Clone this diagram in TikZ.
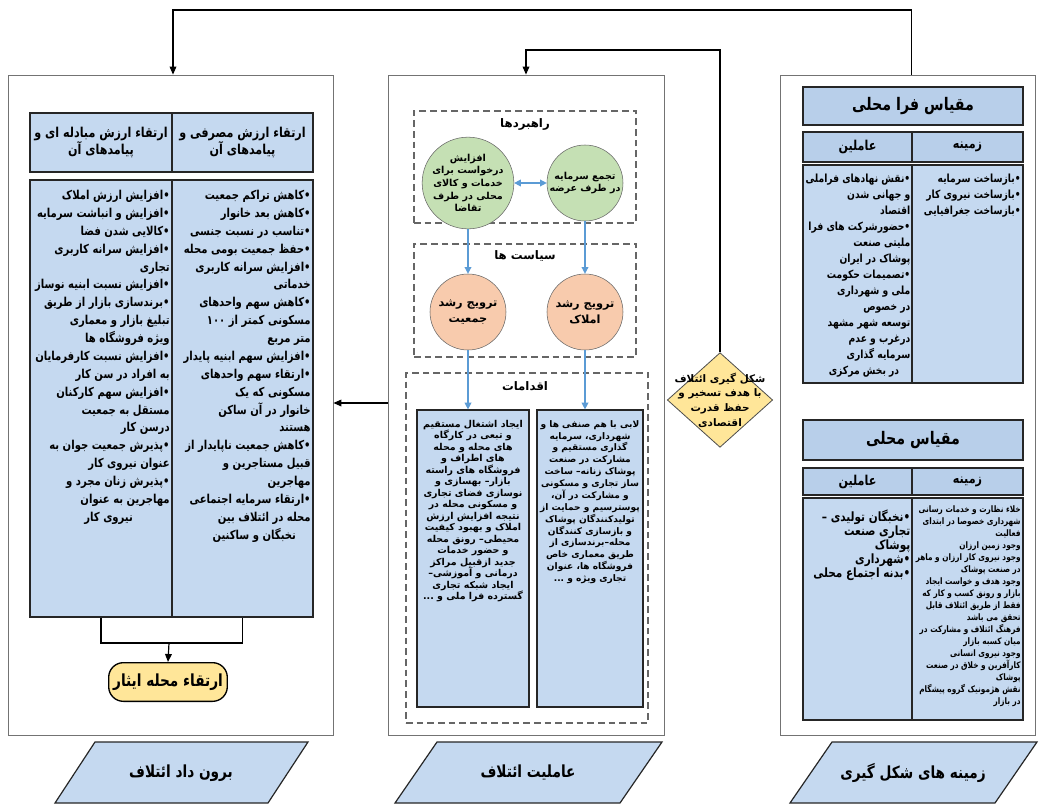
\documentclass[tikz,border=0pt]{standalone}
\usepackage{fontspec}
\usetikzlibrary{positioning,fit,arrows.meta,shapes.geometric}
\newfontfamily\fafont[Script=Arabic]{DejaVu Sans}
\newfontfamily\fanarrow[Script=Arabic,FakeStretch=0.82]{DejaVu Sans}
\TeXXeTstate=1
\newcommand{\fa}[1]{\beginR #1\endR}
\newcommand{\ii}[1]{\hspace*{#1em}}
\definecolor{boxblue}{RGB}{197,217,240}
\definecolor{headblue}{RGB}{184,207,234}
\definecolor{circgreen}{RGB}{197,224,180}
\definecolor{circorange}{RGB}{248,203,173}
\definecolor{goalyellow}{RGB}{255,230,153}
\definecolor{arrowblue}{RGB}{91,155,213}

\begin{document}
\begin{tikzpicture}[x=0.75pt,y=-0.75pt,
  panel/.style={draw=black!55, fill=white, line width=0.6pt, inner sep=0pt},
  bluebox/.style={draw=black!85, fill=boxblue, line width=0.9pt, inner sep=0pt},
  headbox/.style={draw=black!85, fill=headblue, line width=1pt, inner sep=0pt},
  dashbox/.style={draw=black!60, dash pattern=on 5pt off 3pt, line width=0.8pt, inner sep=0pt},
  listtxt/.style={font=\fanarrow\bfseries\fontsize{9.2}{13.4}\selectfont, align=right, inner sep=0pt},
  smalltxt/.style={font=\fanarrow\bfseries\fontsize{6.7}{9}\selectfont, align=right, inner sep=0pt},
  acttxt/.style={font=\fafont\bfseries\fontsize{7.1}{8.6}\selectfont, align=center, inner sep=0pt},
  headtxt/.style={font=\fanarrow\bfseries\fontsize{10.2}{12.8}\selectfont, align=center, inner sep=0pt},
  titletxt/.style={font=\fanarrow\bfseries\fontsize{13}{15}\selectfont, align=center, inner sep=0pt},
  ttl/.style={font=\fafont\bfseries\fontsize{8.8}{11}\selectfont, inner sep=0pt},
  gcirc/.style={circle, draw=black!60, fill=circgreen, minimum size=57pt, inner sep=0pt, align=center,
    font=\fafont\bfseries\fontsize{7.2}{9.5}\selectfont},
  ocirc/.style={gcirc, fill=circorange},
  barrow/.style={-{Triangle[length=5pt,width=5pt]}, draw=arrowblue, line width=0.9pt},
  conn/.style={-{Triangle[length=6pt,width=5pt]}, draw=black, line width=0.9pt},
  para/.style={draw=black!85, fill=boxblue, line width=0.9pt},
  paratxt/.style={font=\fanarrow\bfseries\fontsize{12.5}{14}\selectfont, inner sep=0pt}
]
\useasboundingbox (0,0) rectangle (1040,807);

% panels
\node[panel, fit={(8,75)(333,735)}] (outp) {};
\node[panel, fit={(388,75)(664,735)}] (agency) {};
\node[panel, fit={(780,75)(1035,735)}] (ctx) {};

% top connectors
\coordinate (tl) at (173,10);
\coordinate (tm) at (526,50);
\draw[conn] ([xshift=3pt]ctx.north) |- (tl) -- (tl |- outp.north);

% ---- left panel: output
\node[headbox, fill=boxblue, fit={(30,113)(172,172)}] (hx) {};
\node[headbox, fill=boxblue, fit={(172,113)(313,172)}] (hu) {};
\node[headtxt] at (hx.center) {\fa{ارتقاء ارزش مبادله ای و}\\\fa{پیامدهای آن}};
\node[headtxt] at (hu.center) {\fa{ارتقاء ارزش مصرفی و}\\\fa{پیامدهای آن}};
\node[bluebox, fit={(30,180)(172,617)}] (lx) {};
\node[bluebox, fit={(172,180)(313,617)}] (lu) {};
\node[listtxt, anchor=north east] (lxt) at ([xshift=-2pt,yshift=-8pt]lx.north east) {%
\fa{•افزایش ارزش املاک}\\
\fa{•افزایش و انباشت سرمایه}\\
\fa{•کالایی شدن فضا}\\
\fa{•افزایش سرانه کاربری}\\
\fa{تجاری}\ii{3.5}\\
\fa{•افزایش نسبت ابنیه نوساز}\\
\fa{•برندسازی بازار از طریق}\\
\fa{تبلیغ بازار و معماری}\ii{1}\\
\fa{ویژه فروشگاه ها}\ii{1.8}\\
\fa{•افزایش نسبت کارفرمایان}\\
\fa{به افراد در سن کار}\ii{1.3}\\
\fa{•افزایش سهم کارکنان}\\
\fa{مستقل به جمعیت}\ii{1.8}\\
\fa{درسن کار}\ii{3}\\
\fa{•پذیرش جمعیت جوان به}\\
\fa{عنوان نیروی کار}\ii{1.5}\\
\fa{•پذیرش زنان مجرد و}\\
\fa{مهاجرین به عنوان}\ii{1.2}\\
\fa{نیروی کار}\ii{3}};
\node[listtxt, anchor=north east] (lut) at ([xshift=-2pt,yshift=-8pt]lu.north east) {%
\fa{•کاهش تراکم جمعیت}\\
\fa{•کاهش بعد خانوار}\\
\fa{•تناسب در نسبت جنسی}\\
\fa{•حفظ جمعیت بومی محله}\\
\fa{•افزایش سرانه کاربری}\\
\fa{خدماتی}\ii{3.3}\\
\fa{•کاهش سهم واحدهای}\\
\fa{مسکونی کمتر از ۱۰۰}\ii{0.8}\\
\fa{متر مربع}\ii{3}\\
\fa{•افزایش سهم ابنیه پایدار}\\
\fa{•ارتقاء سهم واحدهای}\\
\fa{مسکونی که یک}\ii{1.8}\\
\fa{خانوار در آن ساکن}\ii{0.8}\\
\fa{هستند}\ii{3.3}\\
\fa{•کاهش جمعیت ناپایدار از}\\
\fa{قبیل مستاجرین و}\ii{1.5}\\
\fa{مهاجرین}\ii{3}\\
\fa{•ارتقاء سرمایه اجتماعی}\\
\fa{محله در ائتلاف بین}\ii{0.8}\\
\fa{نخبگان و ساکنین}\ii{1.2}};
\coordinate (jn) at (169,643);
\node[draw=black, fill=goalyellow, rounded corners=11pt, line width=1pt, minimum width=77pt,
  minimum height=29pt, font=\fanarrow\bfseries\fontsize{12.5}{14}\selectfont] (goal) at (168,682)
  {\fa{ارتقاء محله ایثار}};
\draw[line width=0.9pt] (lx.south) |- (jn) -| (lu.south);
\draw[conn] (jn) -- (goal.north);

% ---- middle panel: agency
\node[dashbox, fit={(414,111)(636,223)}] (strat) {};
\node[ttl] at (525,124) {\fa{راهبردها}};
\node[gcirc] (demand) at (468,183) {\fa{افزایش}\\\fa{درخواست برای}\\\fa{خدمات و کالای}\\\fa{محلی در طرف}\\\fa{تقاضا}};
\node[gcirc] (capital) at (585,183) {\fa{تجمع سرمایه}\\\fa{در طرف عرضه}};
\draw[barrow, {Triangle[length=5pt,width=5pt]}-{Triangle[length=5pt,width=5pt]}] (demand) -- (capital);

\node[dashbox, fit={(414,244)(636,357)}] (policy) {};
\node[ttl] at (525,256) {\fa{سیاست ها}};
\node[ocirc, font=\fafont\bfseries\fontsize{8.5}{12}\selectfont] (pop) at (468,312) {\fa{ترویج رشد}\\\fa{جمعیت}};
\node[ocirc, font=\fafont\bfseries\fontsize{8.5}{12}\selectfont] (prop) at (585,312) {\fa{ترویج رشد}\\\fa{املاک}};
\draw[barrow] (demand.south) -- (pop.north);
\draw[barrow] (capital.south) -- (prop.north);

\node[dashbox, fit={(406,373)(648,723)}] (acts) {};
\node[ttl] at (525,386) {\fa{اقدامات}};
\node[bluebox, fit={(417,410)(529,707)}] (actl) {};
\node[bluebox, fit={(537,410)(643,707)}] (actr) {};
\draw[barrow] (pop.south) -- (pop.south |- actl.north);
\draw[barrow] (prop.south) -- (prop.south |- actr.north);
\node[acttxt, anchor=north] at ([yshift=-8pt]actl.north) {%
\fa{ایجاد اشتغال مستقیم}\\
\fa{و تبعی در کارگاه}\\
\fa{های محله و محله}\\
\fa{های اطراف و}\\
\fa{فروشگاه های راسته}\\
\fa{بازار– بهسازی و}\\
\fa{نوسازی فضای تجاری}\\
\fa{و مسکونی محله در}\\
\fa{نتیجه افزایش ارزش}\\
\fa{املاک و بهبود کیفیت}\\
\fa{محیطی– رونق محله}\\
\fa{و حضور خدمات}\\
\fa{جدید ازقبیل مراکز}\\
\fa{درمانی و آموزشی–}\\
\fa{ایجاد شبکه تجاری}\\
\fa{گسترده فرا ملی و ...}};
\node[acttxt, anchor=north, font=\fafont\bfseries\fontsize{6.8}{8.9}\selectfont] at ([yshift=-8pt]actr.north) {%
\fa{لابی با هم صنفی ها و}\\
\fa{شهرداری، سرمایه}\\
\fa{گذاری مستقیم و}\\
\fa{مشارکت در صنعت}\\
\fa{پوشاک زنانه– ساخت}\\
\fa{ساز تجاری و مسکونی}\\
\fa{و مشارکت در آن،}\\
\fa{پوسترسیم و حمایت از}\\
\fa{تولیدکنندگان پوشاک}\\
\fa{و بازسازی کنندگان}\\
\fa{محله–برندسازی از}\\
\fa{طریق معماری خاص}\\
\fa{فروشگاه ها، عنوان}\\
\fa{تجاری ویژه و ...}};

% middle -> left
\coordinate (ay) at (0,403);
\draw[conn] (agency.west |- ay) -- (outp.east |- ay);

% diamond between context and agency
\node[diamond, draw=black!70, fill=goalyellow, line width=0.6pt, minimum width=79pt, minimum height=71pt,
  inner sep=0pt] (form) at (720,400) {};
\node[font=\fafont\bfseries\fontsize{7.8}{11}\selectfont, align=center, inner sep=0pt] at (form.center)
  {\fa{شکل گیری ائتلاف}\\\fa{با هدف تسخیر و}\\\fa{حفظ قدرت}\\\fa{اقتصادی}};
\draw[conn] (form.north) |- (tm) -- (tm |- agency.north);

% ---- right panel: context
\node[headbox, fit={(803,87)(1023,125)}] (supra) {};
\node[titletxt] at (supra.center) {\fa{مقیاس فرا محلی}};
\node[headbox, fit={(803,132)(912,162)}] (sa) {};
\node[headbox, fit={(912,132)(1023,162)}] (sz) {};
\node[headtxt] at (sa.center) {\fa{عاملین}};
\node[headtxt] at (sz.center) {\fa{زمینه}};
\node[bluebox, fit={(803,165)(912,383)}] (sac) {};
\node[bluebox, fit={(912,165)(1023,383)}] (szc) {};
\node[listtxt, anchor=north east, font=\fanarrow\bfseries\fontsize{8.4}{12}\selectfont] at ([xshift=-2pt,yshift=-7pt]szc.north east) {%
\fa{•بازساخت سرمایه}\\
\fa{•بازساخت نیروی کار}\\
\fa{•بازساخت جغرافیایی}};
\node[listtxt, anchor=north east, font=\fanarrow\bfseries\fontsize{8.4}{12}\selectfont] at ([xshift=-1.5pt,yshift=-7pt]sac.north east) {%
\fa{•نقش نهادهای فراملی}\\
\fa{و جهانی شدن}\ii{1.5}\\
\fa{اقتصاد}\ii{3}\\
\fa{•حضورشرکت های فرا}\\
\fa{ملیتی صنعت}\ii{1.8}\\
\fa{پوشاک در ایران}\ii{0.8}\\
\fa{•تصمیمات حکومت}\\
\fa{ملی و شهرداری}\ii{0.8}\\
\fa{در خصوص}\ii{2}\\
\fa{توسعه شهر مشهد}\ii{0.6}\\
\fa{درغرب و عدم}\ii{1.3}\\
\fa{سرمایه گذاری}\ii{1.3}\\
\fa{در بخش مرکزی}\ii{1}};

\node[headbox, fit={(803,420)(1023,460)}] (local) {};
\node[titletxt] at (local.center) {\fa{مقیاس محلی}};
\node[headbox, fit={(803,468)(912,495)}] (la) {};
\node[headbox, fit={(912,468)(1023,495)}] (lz) {};
\node[headtxt] at (la.center) {\fa{عاملین}};
\node[headtxt] at (lz.center) {\fa{زمینه}};
\node[bluebox, fit={(803,498)(912,720)}] (lac) {};
\node[bluebox, fit={(912,498)(1023,720)}] (lzc) {};
\node[listtxt, anchor=north east, font=\fanarrow\bfseries\fontsize{9.6}{10.5}\selectfont] at ([xshift=-1.5pt,yshift=-9pt]lac.north east) {%
\fa{•نخبگان تولیدی –}\\
\fa{تجاری صنعت}\ii{1.3}\\
\fa{پوشاک}\ii{2.5}\\
\fa{•شهرداری}\\
\fa{•بدنه اجتماع محلی}};
\node[smalltxt, anchor=north east] at ([xshift=-2pt,yshift=-6pt]lzc.north east) {%
\fa{خلاء نظارت و خدمات رسانی}\\
\fa{شهرداری خصوصا در ابتدای}\\
\fa{فعالیت}\\
\fa{وجود زمین ارزان}\ii{1.5}\\
\fa{وجود نیروی کار ارزان و ماهر}\\
\fa{در صنعت پوشاک}\\
\fa{وجود هدف و خواست ایجاد}\\
\fa{بازار و رونق کسب و کار که}\\
\fa{فقط از طریق ائتلاف قابل}\ii{0.6}\\
\fa{تحقق می باشد}\\
\fa{فرهنگ ائتلاف و مشارکت در}\\
\fa{میان کسبه بازار}\ii{1.5}\\
\fa{وجود نیروی انسانی}\ii{1.5}\\
\fa{کارآفرین و خلاق در صنعت}\\
\fa{پوشاک}\\
\fa{نقش هژمونیک گروه پیشگام}\\
\fa{در بازار}};

% ---- bottom labels
\draw[para] (55,803) -- (268,803) -- (308,742) -- (95,742) -- cycle;
\node[paratxt] (outlbl) at (181,773) {\fa{برون داد ائتلاف}};
\draw[para] (395,803) -- (620,803) -- (662,742) -- (437,742) -- cycle;
\node[paratxt] (aglbl) at (528,773) {\fa{عاملیت ائتلاف}};
\draw[para] (790,803) -- (995,803) -- (1037,742) -- (832,742) -- cycle;
\node[paratxt] (ctxlbl) at (913,773) {\fa{زمینه های شکل گیری}};
\end{tikzpicture}
\end{document}
